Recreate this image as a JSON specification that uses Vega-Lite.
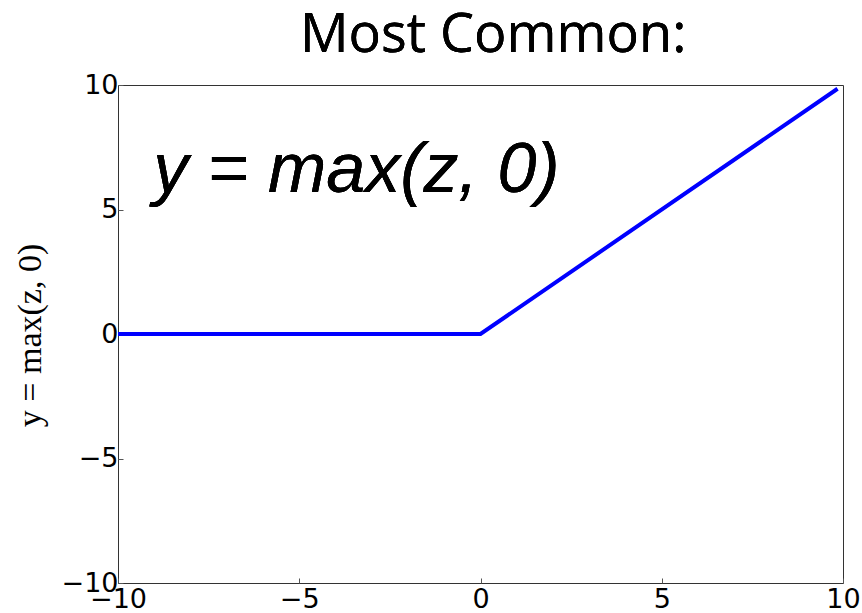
{
  "$schema": "https://vega.github.io/schema/vega-lite/v6.json",
  "width": 725,
  "height": 498,
  "autosize": {"type": "none"},
  "padding": {"left": 118, "top": 85, "right": 19, "bottom": 30},
  "background": "white",
  "config": {
    "view": {"stroke": "#333333", "strokeWidth": 1},
    "axis": {
      "grid": false,
      "domain": false,
      "labelFont": "DejaVu Sans",
      "labelFontSize": 27,
      "labelColor": "black",
      "tickColor": "#555555",
      "tickSize": -5,
      "labelPadding": 5
    }
  },
  "data": {
    "values": [
      {"z": -10, "y": 0},
      {"z": 0, "y": 0},
      {"z": 9.85, "y": 9.85}
    ]
  },
  "layer": [
    {
      "mark": {"type": "line", "color": "#0000ff", "strokeWidth": 4, "clip": true},
      "encoding": {
        "x": {
          "field": "z",
          "type": "quantitative",
          "scale": {"domain": [-10, 10], "nice": false, "zero": false},
          "axis": {"values": [-10, -5, 0, 5, 10], "title": null, "labelFlush": false, "labelBaseline": "top", "labelPadding": 8}
        },
        "y": {
          "field": "y",
          "type": "quantitative",
          "scale": {"domain": [-10, 10], "nice": false},
          "axis": {
            "values": [-10, -5, 0, 5, 10],
            "labelFlush": false,
            "labelExpr": "replace(datum.label, '-', '−')",
            "title": "y = max(z, 0)",
            "titleFont": "Liberation Serif",
            "titleFontSize": 34,
            "titleFontWeight": "normal",
            "titleColor": "black",
            "titleAngle": -90,
            "titleX": -88,
            "titleY": 250,
            "titleAlign": "center",
            "titleBaseline": "middle"
          }
        }
      }
    },
    {
      "mark": {
        "type": "text",
        "text": "y = max(z, 0)",
        "font": "Liberation Sans",
        "fontStyle": "italic",
        "fontSize": 70,
        "align": "left",
        "baseline": "alphabetic",
        "color": "black"
      },
      "encoding": {
        "x": {"datum": -9.03, "type": "quantitative"},
        "y": {"datum": 5.7, "type": "quantitative"}
      }
    },
    {
      "mark": {
        "type": "text",
        "text": "Most Common:",
        "font": "Open Sans",
        "fontSize": 54,
        "align": "center",
        "baseline": "alphabetic",
        "dy": -33,
        "color": "black"
      },
      "encoding": {
        "x": {"datum": 0.35, "type": "quantitative"},
        "y": {"datum": 10, "type": "quantitative"}
      }
    }
  ]
}
